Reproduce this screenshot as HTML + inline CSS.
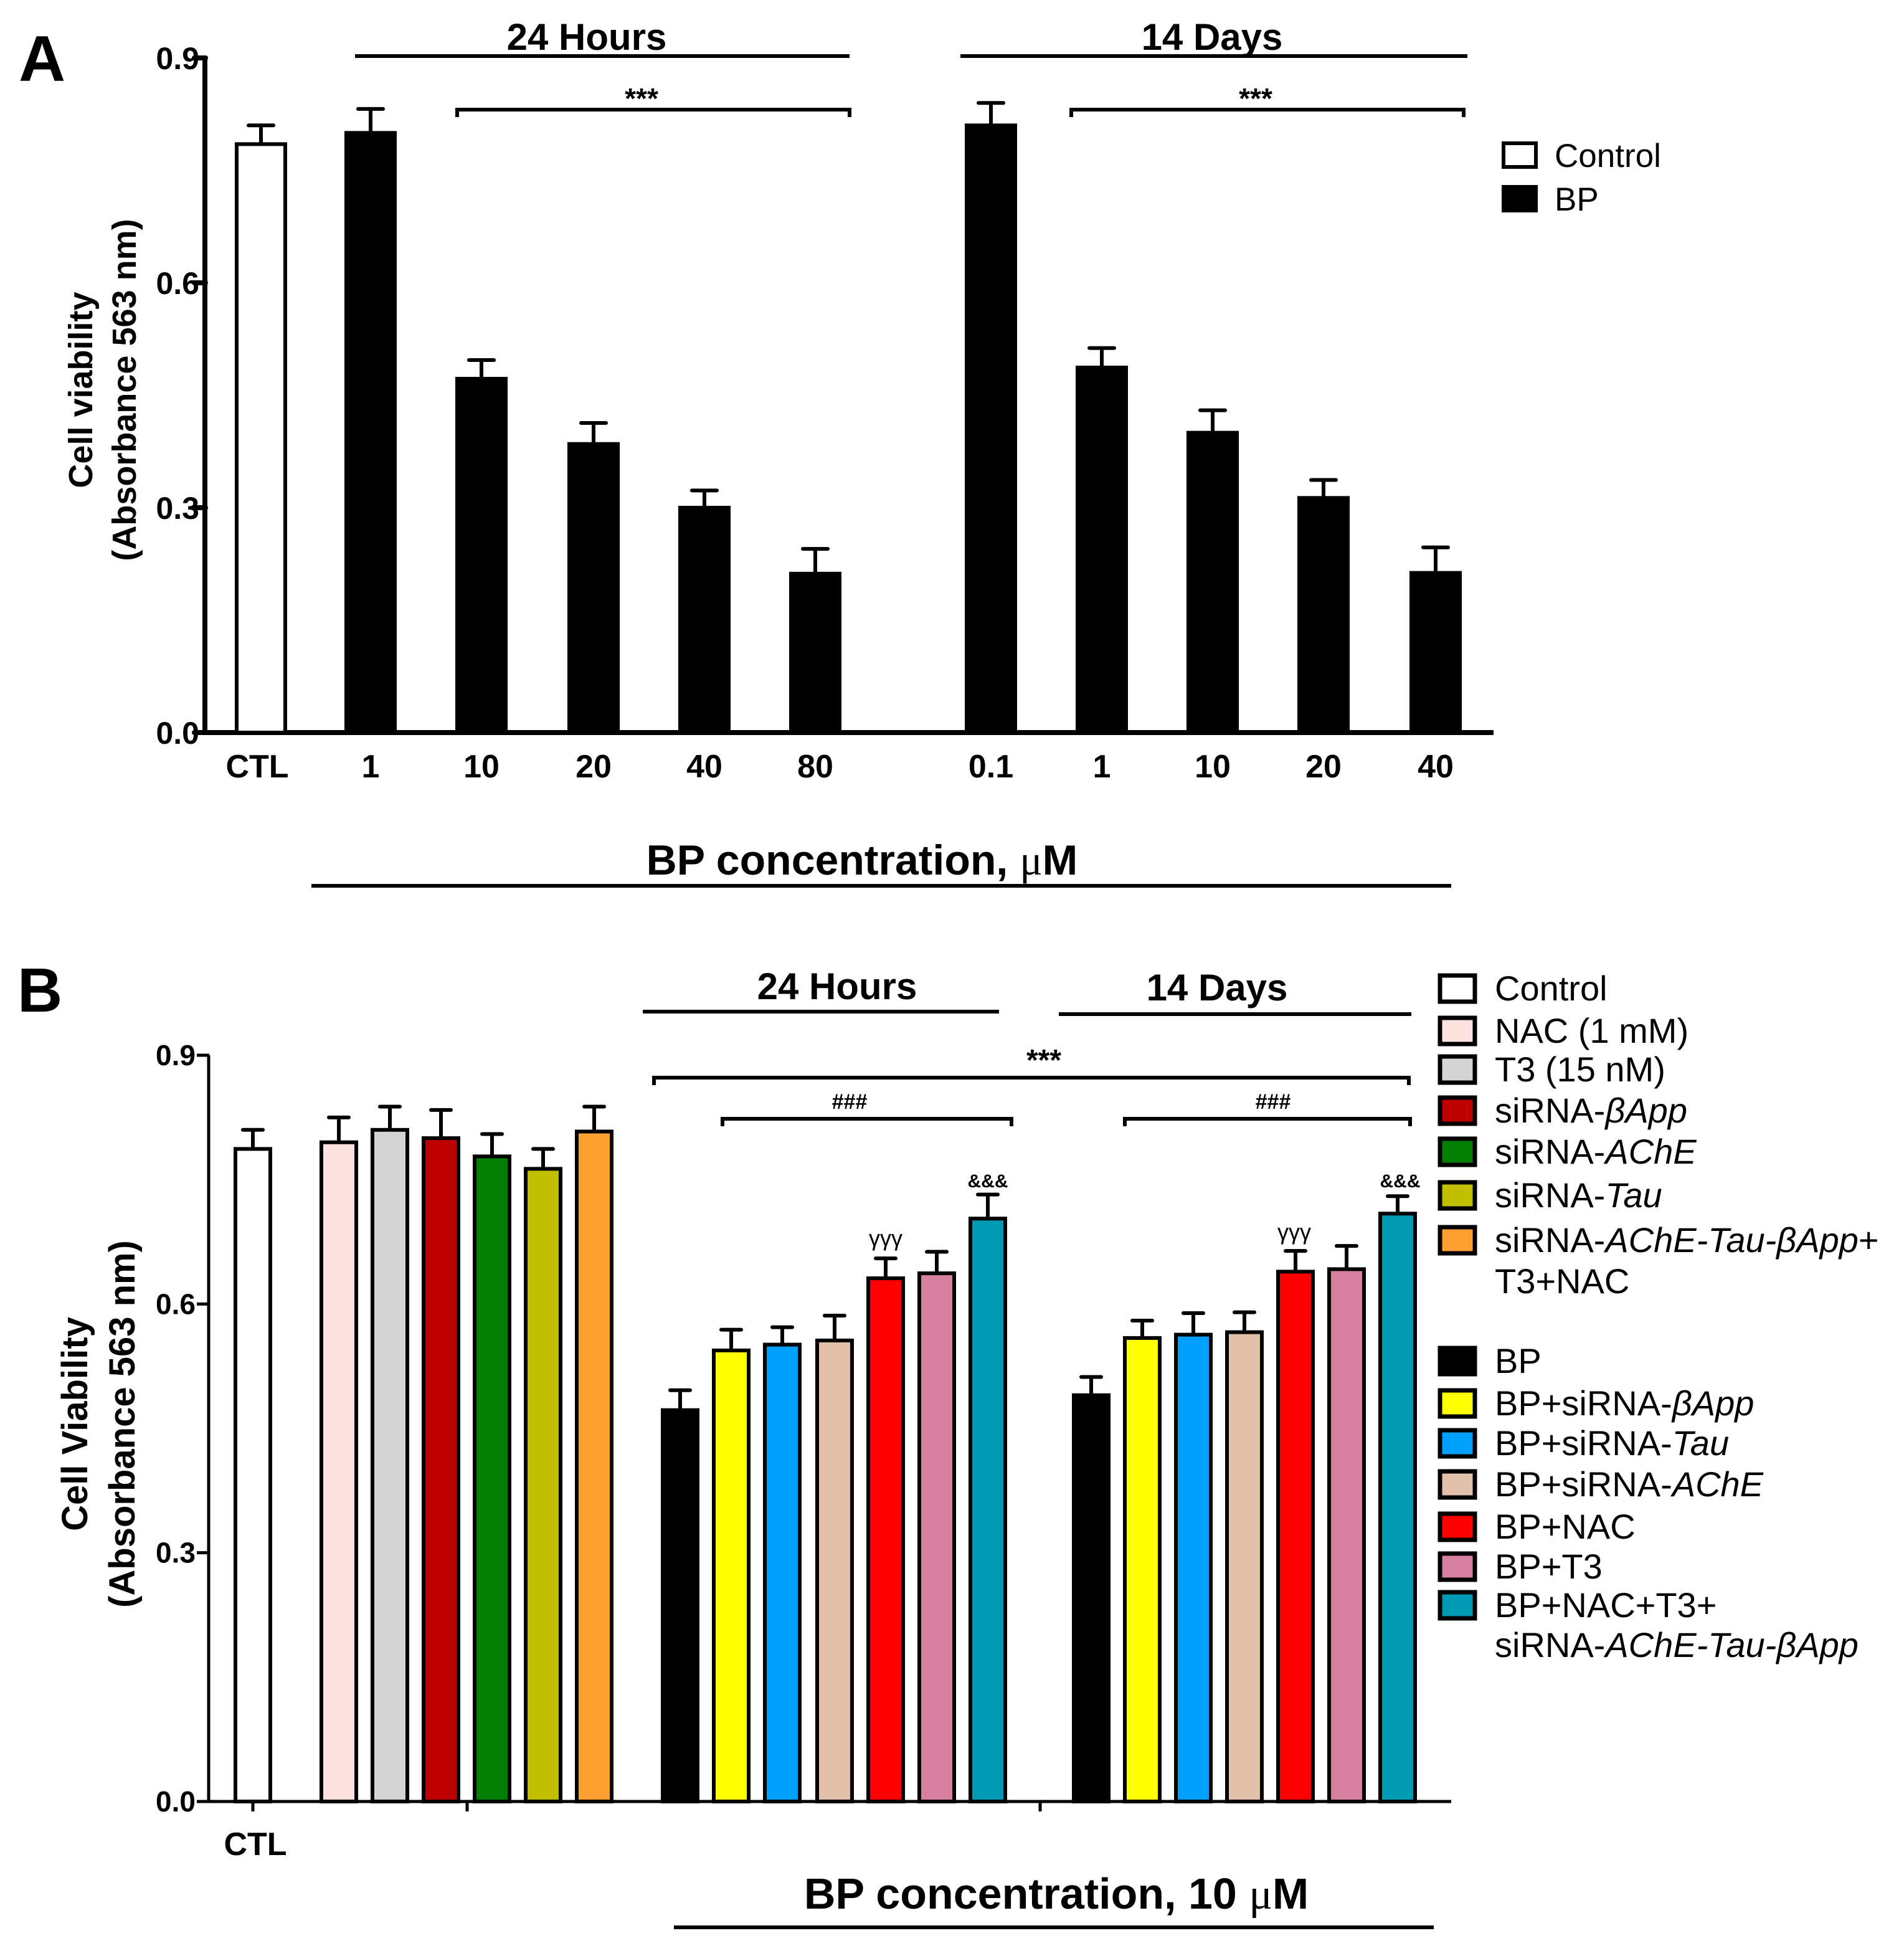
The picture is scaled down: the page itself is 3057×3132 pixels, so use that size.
<!DOCTYPE html>
<html><head><meta charset="utf-8"><style>
html,body{margin:0;padding:0;background:#fff}
svg{display:block}
text{font-family:"Liberation Sans",Arial,sans-serif}
.b{font-weight:bold}
</style></head><body>
<svg id="fig" width="3057" height="3132" viewBox="0 0 1528.5 1566" xmlns="http://www.w3.org/2000/svg">
<g id="panelA"></g>
<g id="panelB"></g>
</svg>
<script>
// ---------- Panel A data ----------
const aCategories = ["CTL","1","10","20","40","80","0.1","1","10","20","40"];
const aValues = [0.785,0.80,0.472,0.385,0.30,0.212,0.81,0.487,0.40,0.313,0.213];
const aErrors = [0.025,0.032,0.025,0.028,0.023,0.033,0.03,0.026,0.03,0.024,0.034];
const aGroups = ["control","bp","bp","bp","bp","bp","bp","bp","bp","bp","bp"];
const aTicks = [0,0.3,0.6,0.9];
const aTickLabels = ["0.0","0.3","0.6","0.9"];
// ---------- Panel B data ----------
const bCategories = ["CTL","NAC","T3","siRNA-bApp","siRNA-AChE","siRNA-Tau","siRNA-mix",
 "BP 24h","BP+siRNA-bApp 24h","BP+siRNA-Tau 24h","BP+siRNA-AChE 24h","BP+NAC 24h","BP+T3 24h","BP+all 24h",
 "BP 14d","BP+siRNA-bApp 14d","BP+siRNA-Tau 14d","BP+siRNA-AChE 14d","BP+NAC 14d","BP+T3 14d","BP+all 14d"];
const bValues = [0.787,0.795,0.81,0.80,0.778,0.763,0.808,0.472,0.544,0.551,0.556,0.631,0.637,0.703,0.49,0.559,0.563,0.566,0.639,0.642,0.709];
const bErrors = [0.023,0.03,0.028,0.034,0.027,0.024,0.03,0.024,0.025,0.021,0.03,0.024,0.026,0.029,0.022,0.021,0.026,0.024,0.025,0.028,0.021];
const bColors = ["#ffffff","#fde1e1","#d4d4d4","#be0000","#007f00","#c0c000","#ffa030",
 "#000000","#ffff00","#00a0ff","#e2c0aa","#ff0000","#d67fa0","#0098b2",
 "#000000","#ffff00","#00a0ff","#e2c0aa","#ff0000","#d67fa0","#0098b2"];
const bTicks = [0,0.3,0.6,0.9];
const bTickLabels = ["0.0","0.3","0.6","0.9"];

const NS="http://www.w3.org/2000/svg";
function mk(parent,tag,attrs,txt){const e=document.createElementNS(NS,tag);for(const k in attrs)e.setAttribute(k,attrs[k]);if(txt!==undefined)e.textContent=txt;parent.appendChild(e);return e;}

// ---------- Panel A ----------
const A=document.getElementById('panelA');
const aY0=588,aY9=46.5;
function ay(v){return aY0-(aY0-aY9)*v/0.9;}
const aBarX=[190,278,367,457,546,635,776,865,954,1043,1133];
function ax(i){return aBarX[i];}
const aW=39;
let t;
t=mk(A,'text',{x:15,y:65,'font-size':52,class:'b'},'A');


let ln=mk(A,'line',{x1:164.5,y1:ay(0.9),x2:164.5,y2:589,stroke:'#000','stroke-width':4});


ln=mk(A,'line',{x1:163,y1:588,x2:1199,y2:588,stroke:'#000','stroke-width':4});


aTicks.forEach((v,i)=>{
  const l=mk(A,'line',{x1:156,y1:ay(v),x2:165,y2:ay(v),stroke:'#000','stroke-width':4,'stroke-linecap':'round'});
  
  
  const tt=mk(A,'text',{x:160,y:ay(v)+9,'font-size':25,'text-anchor':'end',class:'b'},aTickLabels[i]);
  
  
});
aCategories.forEach((c,i)=>{
  const x=ax(i),top=ay(aValues[i]),et=ay(aValues[i]+aErrors[i]);
  const cx=x+aW/2;
  const e=mk(A,'line',{x1:cx,y1:top,x2:cx,y2:et,stroke:'#000','stroke-width':3});
  
  
  const cap=mk(A,'line',{x1:cx-10,y1:et,x2:cx+10,y2:et,stroke:'#000','stroke-width':3,'stroke-linecap':'round'});
  
  
  const r=mk(A,'rect',{x:x,y:top,width:aW,height:aY0-top,fill:aGroups[i]==='control'?'#fff':'#000',stroke:'#000','stroke-width':3});
  
  
  const lt=mk(A,'text',{x:cx-(i===0?3:0),y:624,'font-size':26,'text-anchor':'middle',class:'b'},c);
  
  
});
function hline(P,x1,x2,y,name,w){const l=mk(P,'line',{x1:x1,y1:y,x2:x2,y2:y,stroke:'#000','stroke-width':w||3});return l;}
function bracket(P,x1,x2,y,name){const p=mk(P,'path',{d:`M${x1},${y+6} L${x1},${y} L${x2},${y} L${x2},${y+6}`,fill:'none',stroke:'#000','stroke-width':3});}
function label(P,x,y,s,txt,name,anchor,cls){const e=mk(P,'text',{x:x,y:y,'font-size':s,'text-anchor':anchor||'middle',class:cls===undefined?'b':cls},txt);return e;}
label(A,471,40,30,'24 Hours','a-24h-title');
hline(A,285,682,45,'a-24h-line');
label(A,973,40,30,'14 Days','a-14d-title');
hline(A,771,1178,45,'a-14d-line');
bracket(A,367,682,88,'a-bracket-24h');
label(A,515,87,23,'***','a-sig-24h','middle','b');
bracket(A,860,1175,88,'a-bracket-14d');
label(A,1008,87,23,'***','a-sig-14d','middle','b');
t=label(A,692,702,34,'','a-x-axis-title');
t.innerHTML='BP concentration, <tspan font-weight="normal" font-family="Liberation Serif">μ</tspan>M';
hline(A,250,1165,711,'a-x-title-line');
let g=mk(A,'text',{transform:'translate(74,313) rotate(-90)','font-size':27,'text-anchor':'middle',class:'b'},'Cell viability');


g=mk(A,'text',{transform:'translate(109,313) rotate(-90)','font-size':27,'text-anchor':'middle',class:'b'},'(Absorbance 563 nm)');


[['Control','#fff',115],['BP','#000',150]].forEach(d=>{
  const r=mk(A,'rect',{x:1207,y:d[2],width:26,height:19,fill:d[1],stroke:'#000','stroke-width':3});
  
  
  label(A,1248,d[2]+19,26.5,d[0],'a-legend-entry','start','');
});

// ---------- Panel B ----------
const B=document.getElementById('panelB');
const bY0=1446,bY9=847;
function by(v){return bY0-(bY0-bY9)*v/0.9;}
const bBarX=[189,258,299,340,381,422,463,532,573,614,656,697,738,779,862,903,944,985,1026,1067,1108];
function bx(i){return bBarX[i];}
const bW=28;
label(B,14,812,50,'B','panel-b-label','start');
ln=mk(B,'line',{x1:167.5,y1:by(0.9),x2:167.5,y2:1447,stroke:'#000','stroke-width':2.5});


ln=mk(B,'line',{x1:166,y1:1446,x2:1165,y2:1446,stroke:'#000','stroke-width':2.5});


bTicks.forEach((v,i)=>{
  const l=mk(B,'line',{x1:158,y1:by(v),x2:168,y2:by(v),stroke:'#000','stroke-width':2.5});
  
  
  const tt=mk(B,'text',{x:157,y:by(v)+8,'font-size':23,'text-anchor':'end',class:'b'},bTickLabels[i]);
  
  
});
[203,375,835].forEach(x=>{const l=mk(B,'line',{x1:x,y1:1446,x2:x,y2:1454,stroke:'#000','stroke-width':2.5});});
bCategories.forEach((c,i)=>{
  const x=bx(i),top=by(bValues[i]),et=by(bValues[i]+bErrors[i]);
  const cx=x+bW/2;
  const e=mk(B,'line',{x1:cx,y1:top,x2:cx,y2:et,stroke:'#000','stroke-width':3});
  
  
  const cap=mk(B,'line',{x1:cx-8,y1:et,x2:cx+8,y2:et,stroke:'#000','stroke-width':3,'stroke-linecap':'round'});
  
  
  const r=mk(B,'rect',{x:x,y:top,width:bW,height:bY0-top,fill:bColors[i],stroke:'#000','stroke-width':3});
  
  
});
label(B,205,1489,26,'CTL','b-ctl-label');
label(B,672,802,30,'24 Hours','b-24h-title');
hline(B,516,802,812,'b-24h-line');
label(B,977,803,30,'14 Days','b-14d-title');
hline(B,850,1133,814,'b-14d-line');
label(B,838,859,24,'***','b-sig-all','middle','b');
bracket(B,525,1131,865,'b-bracket-all');
label(B,682,890,17,'###','b-hash-24h','middle','b');
bracket(B,580,812,898,'b-bracket-24h');
label(B,1022,890,17,'###','b-hash-14d','middle','b');
bracket(B,903,1132,898,'b-bracket-14d');
label(B,711,1000,18,'γγγ','b-gamma-24h','middle','');
label(B,793,953,15,'&&&','b-amp-24h');
label(B,1039,995,18,'γγγ','b-gamma-14d','middle','');
label(B,1124,953,15,'&&&','b-amp-14d');
t=label(B,848,1532,35,'','b-x-axis-title');
t.innerHTML='BP concentration, 10 <tspan font-weight="normal" font-family="Liberation Serif">μ</tspan>M';
hline(B,541,1151,1547,'b-x-title-line');
g=mk(B,'text',{transform:'translate(70,1143) rotate(-90)','font-size':29,'text-anchor':'middle',class:'b'},'Cell Viability');


g=mk(B,'text',{transform:'translate(108,1143) rotate(-90)','font-size':29,'text-anchor':'middle',class:'b'},'(Absorbance 563 nm)');


const leg=[
 ['#ffffff',793,'Control'],['#fde1e1',827,'NAC (1 mM)'],['#d4d4d4',858,'T3 (15 nM)'],
 ['#be0000',891,'siRNA-<tspan font-style="italic">βApp</tspan>'],['#007f00',924,'siRNA-<tspan font-style="italic">AChE</tspan>'],
 ['#c0c000',959,'siRNA-<tspan font-style="italic">Tau</tspan>'],['#ffa030',995,'siRNA-<tspan font-style="italic">AChE-Tau-βApp</tspan>+'],
 [null,1028,'T3+NAC'],
 ['#000000',1092,'BP'],['#ffff00',1126,'BP+siRNA-<tspan font-style="italic">βApp</tspan>'],['#00a0ff',1158,'BP+siRNA-<tspan font-style="italic">Tau</tspan>'],
 ['#e2c0aa',1191,'BP+siRNA-<tspan font-style="italic">AChE</tspan>'],['#ff0000',1225,'BP+NAC'],['#d67fa0',1257,'BP+T3'],
 ['#0098b2',1288,'BP+NAC+T3+'],[null,1320,'siRNA-<tspan font-style="italic">AChE-Tau-βApp</tspan>']];
leg.forEach(d=>{
  if(d[0]){
    const r=mk(B,'rect',{x:1156,y:d[1]-10,width:28,height:21,fill:d[0],stroke:'#000','stroke-width':3.5});
    
    
  }
  const e=mk(B,'text',{x:1200,y:d[1]+10,'font-size':28});
  e.innerHTML=d[2];
  
  
});
</script>
</body></html>
